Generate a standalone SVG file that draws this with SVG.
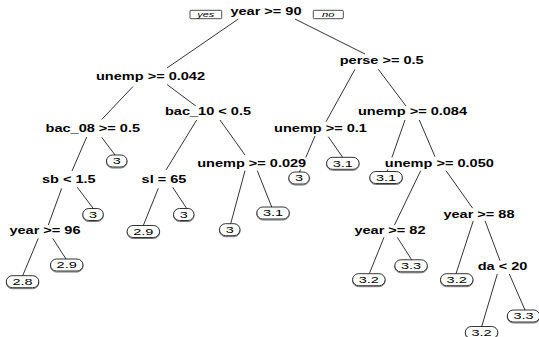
<svg xmlns="http://www.w3.org/2000/svg" width="539" height="337" viewBox="0 0 539 337">
  <style>
    .split { font-family: "Liberation Sans", Arial, sans-serif; font-weight: bold; font-size: 10px; text-anchor: middle; fill: #000; }
    .leaf text { font-family: "Liberation Sans", Arial, sans-serif; font-size: 9.5px; text-anchor: middle; fill: #000; }
    .bg { fill: #fff; stroke: none; }
    .box { fill: #fff; stroke: #000; stroke-width: 0.8; }
    .shadow { fill: none; stroke: #777; stroke-width: 1; }
    .yn { fill: #fff; stroke: #000; stroke-width: 0.7; }
    .yntext { font-family: "Liberation Sans", Arial, sans-serif; font-style: italic; font-size: 7.5px; text-anchor: middle; fill: #000; }
    #connectors line { stroke: #000; stroke-width: 0.8; }
  </style>

  <rect width="539" height="337" fill="#fff"/>

  <!-- branch lines (drawn first so split-label backgrounds cover them) -->
  <g id="connectors">
    <line x1="238.3" y1="19" x2="167" y2="68"/>
    <line x1="295" y1="19" x2="365" y2="54"/>
    <line x1="133" y1="86.5" x2="101.7" y2="119.5"/>
    <line x1="167" y1="84.5" x2="196.7" y2="106.7"/>
    <line x1="355" y1="69.3" x2="326" y2="121.7"/>
    <line x1="378.3" y1="69.3" x2="406" y2="106"/>
    <line x1="86.7" y1="137" x2="72" y2="171"/>
    <line x1="101.7" y1="137.3" x2="115" y2="155"/>
    <line x1="196.7" y1="120" x2="166" y2="170"/>
    <line x1="220" y1="120" x2="245" y2="155"/>
    <line x1="315" y1="136" x2="299.5" y2="172"/>
    <line x1="328.3" y1="136.7" x2="342.7" y2="157.3"/>
    <line x1="405" y1="120" x2="387" y2="171.5"/>
    <line x1="419.3" y1="120" x2="435" y2="156.7"/>
    <line x1="61.7" y1="188.3" x2="48.3" y2="225"/>
    <line x1="77.3" y1="187.3" x2="93.3" y2="208.5"/>
    <line x1="158.3" y1="188.3" x2="143.3" y2="225.5"/>
    <line x1="172.7" y1="187.3" x2="186.7" y2="208.5"/>
    <line x1="245" y1="170.7" x2="230.7" y2="223.7"/>
    <line x1="257.3" y1="170.7" x2="271.7" y2="207"/>
    <line x1="420.7" y1="170.7" x2="394" y2="226"/>
    <line x1="446" y1="170.7" x2="472.7" y2="208.3"/>
    <line x1="38.3" y1="238.3" x2="22.7" y2="275.7"/>
    <line x1="52.7" y1="238.3" x2="66" y2="259"/>
    <line x1="384" y1="237.3" x2="369.3" y2="273.7"/>
    <line x1="397.3" y1="237.3" x2="411.7" y2="259.8"/>
    <line x1="473.3" y1="220.7" x2="456" y2="273.7"/>
    <line x1="485" y1="220.7" x2="500" y2="260.7"/>
    <line x1="497.3" y1="274" x2="481.7" y2="326.5"/>
    <line x1="509.3" y1="274" x2="525" y2="310"/>
  </g>

  <!-- split nodes -->
  <g id="n1">
    <rect class="yn" x="190" y="10.3" width="31.7" height="8.4" rx="1"/>
    <text class="yntext" x="205.8" y="17" textLength="17" lengthAdjust="spacingAndGlyphs">yes</text>
    <rect class="yn" x="313.3" y="10.3" width="30" height="8.4" rx="1"/>
    <text class="yntext" x="328.3" y="17" textLength="12.5" lengthAdjust="spacingAndGlyphs">no</text>
    <rect class="bg" x="228" y="5" width="75" height="12"/>
    <text class="split" x="266" y="14.5" textLength="71.1" lengthAdjust="spacingAndGlyphs">year &gt;= 90</text>
  </g>
  <g id="n2">
    <rect class="bg" x="94" y="71" width="113" height="12"/>
    <text class="split" x="150.5" y="80" textLength="109" lengthAdjust="spacingAndGlyphs">unemp &gt;= 0.042</text>
  </g>
  <g id="n3">
    <rect class="bg" x="337.7" y="55" width="88" height="12"/>
    <text class="split" x="381.7" y="64" textLength="84" lengthAdjust="spacingAndGlyphs">perse &gt;= 0.5</text>
  </g>
  <g id="n4">
    <rect class="bg" x="43.5" y="122.5" width="98.5" height="12"/>
    <text class="split" x="92.8" y="131.5" textLength="94.5" lengthAdjust="spacingAndGlyphs">bac_08 &gt;= 0.5</text>
  </g>
  <g id="n5">
    <rect class="bg" x="163" y="106" width="90" height="12"/>
    <text class="split" x="208" y="115" textLength="86" lengthAdjust="spacingAndGlyphs">bac_10 &lt; 0.5</text>
  </g>
  <g id="n6">
    <rect class="bg" x="272" y="122.5" width="97" height="12"/>
    <text class="split" x="320.5" y="131.5" textLength="92.9" lengthAdjust="spacingAndGlyphs">unemp &gt;= 0.1</text>
  </g>
  <g id="n7">
    <rect class="bg" x="356" y="106" width="113" height="12"/>
    <text class="split" x="412.5" y="115" textLength="109" lengthAdjust="spacingAndGlyphs">unemp &gt;= 0.084</text>
  </g>
  <g id="n8">
    <rect class="bg" x="40" y="174" width="57.7" height="12"/>
    <text class="split" x="68.8" y="183" textLength="53.7" lengthAdjust="spacingAndGlyphs">sb &lt; 1.5</text>
  </g>
  <g id="n9">
    <rect class="bg" x="139.6" y="174" width="48.8" height="12"/>
    <text class="split" x="164" y="183" textLength="44.8" lengthAdjust="spacingAndGlyphs">sl = 65</text>
  </g>
  <g id="n10">
    <rect class="bg" x="195.2" y="157.5" width="113" height="12"/>
    <text class="split" x="251.7" y="166.5" textLength="109" lengthAdjust="spacingAndGlyphs">unemp &gt;= 0.029</text>
  </g>
  <g id="n11">
    <rect class="bg" x="382.8" y="157.5" width="113" height="12"/>
    <text class="split" x="439.3" y="166.5" textLength="109" lengthAdjust="spacingAndGlyphs">unemp &gt;= 0.050</text>
  </g>
  <g id="n12">
    <rect class="bg" x="7.5" y="225" width="75" height="12"/>
    <text class="split" x="45" y="234" textLength="71.1" lengthAdjust="spacingAndGlyphs">year &gt;= 96</text>
  </g>
  <g id="n13">
    <rect class="bg" x="441.5" y="208.5" width="75" height="12"/>
    <text class="split" x="479" y="217.5" textLength="71.1" lengthAdjust="spacingAndGlyphs">year &gt;= 88</text>
  </g>
  <g id="n14">
    <rect class="bg" x="352.5" y="225" width="75" height="12"/>
    <text class="split" x="390" y="234" textLength="71.1" lengthAdjust="spacingAndGlyphs">year &gt;= 82</text>
  </g>
  <g id="n15">
    <rect class="bg" x="475.6" y="261" width="53.7" height="12"/>
    <text class="split" x="502.5" y="270" textLength="49.7" lengthAdjust="spacingAndGlyphs">da &lt; 20</text>
  </g>

  <!-- leaves: rounded boxes with a light drop shadow -->
  <g id="l1" class="leaf">
    <rect class="shadow" x="106.5" y="156" width="20.5" height="12" rx="6"/>
    <rect class="box" x="106.5" y="155" width="20.5" height="12" rx="6"/>
    <text x="116.7" y="164.4" textLength="8.1" lengthAdjust="spacingAndGlyphs">3</text>
  </g>
  <g id="l2" class="leaf">
    <rect class="shadow" x="82.8" y="209.5" width="20.5" height="12" rx="6"/>
    <rect class="box" x="82.8" y="208.5" width="20.5" height="12" rx="6"/>
    <text x="93" y="217.9" textLength="8.1" lengthAdjust="spacingAndGlyphs">3</text>
  </g>
  <g id="l3" class="leaf">
    <rect class="shadow" x="127.1" y="226.5" width="32.5" height="12" rx="6"/>
    <rect class="box" x="127.1" y="225.5" width="32.5" height="12" rx="6"/>
    <text x="143.3" y="234.9" textLength="20.2" lengthAdjust="spacingAndGlyphs">2.9</text>
  </g>
  <g id="l4" class="leaf">
    <rect class="shadow" x="173.5" y="209.5" width="20.5" height="12" rx="6"/>
    <rect class="box" x="173.5" y="208.5" width="20.5" height="12" rx="6"/>
    <text x="183.7" y="217.9" textLength="8.1" lengthAdjust="spacingAndGlyphs">3</text>
  </g>
  <g id="l5" class="leaf">
    <rect class="shadow" x="50.5" y="260" width="32.5" height="12" rx="6"/>
    <rect class="box" x="50.5" y="259" width="32.5" height="12" rx="6"/>
    <text x="66.7" y="268.4" textLength="20.2" lengthAdjust="spacingAndGlyphs">2.9</text>
  </g>
  <g id="l6" class="leaf">
    <rect class="shadow" x="6.3" y="276.7" width="32.5" height="12" rx="6"/>
    <rect class="box" x="6.3" y="275.7" width="32.5" height="12" rx="6"/>
    <text x="22.5" y="285.1" textLength="20.2" lengthAdjust="spacingAndGlyphs">2.8</text>
  </g>
  <g id="l7" class="leaf">
    <rect class="shadow" x="219.5" y="224.7" width="20.5" height="12" rx="6"/>
    <rect class="box" x="219.5" y="223.7" width="20.5" height="12" rx="6"/>
    <text x="229.7" y="233.1" textLength="8.1" lengthAdjust="spacingAndGlyphs">3</text>
  </g>
  <g id="l8" class="leaf">
    <rect class="shadow" x="256.8" y="208" width="32.5" height="12" rx="6"/>
    <rect class="box" x="256.8" y="207" width="32.5" height="12" rx="6"/>
    <text x="273" y="216.4" textLength="20.2" lengthAdjust="spacingAndGlyphs">3.1</text>
  </g>
  <g id="l9" class="leaf">
    <rect class="shadow" x="288.8" y="173" width="20.5" height="12" rx="6"/>
    <rect class="box" x="288.8" y="172" width="20.5" height="12" rx="6"/>
    <text x="299" y="181.4" textLength="8.1" lengthAdjust="spacingAndGlyphs">3</text>
  </g>
  <g id="l10" class="leaf">
    <rect class="shadow" x="326.6" y="158.3" width="32.5" height="12" rx="6"/>
    <rect class="box" x="326.6" y="157.3" width="32.5" height="12" rx="6"/>
    <text x="342.8" y="166.7" textLength="20.2" lengthAdjust="spacingAndGlyphs">3.1</text>
  </g>
  <g id="l11" class="leaf">
    <rect class="shadow" x="369.8" y="172.5" width="32.5" height="12" rx="6"/>
    <rect class="box" x="369.8" y="171.5" width="32.5" height="12" rx="6"/>
    <text x="386" y="180.9" textLength="20.2" lengthAdjust="spacingAndGlyphs">3.1</text>
  </g>
  <g id="l12" class="leaf">
    <rect class="shadow" x="352.6" y="274.7" width="32.5" height="12" rx="6"/>
    <rect class="box" x="352.6" y="273.7" width="32.5" height="12" rx="6"/>
    <text x="368.8" y="283.1" textLength="20.2" lengthAdjust="spacingAndGlyphs">3.2</text>
  </g>
  <g id="l13" class="leaf">
    <rect class="shadow" x="394.8" y="260.8" width="32.5" height="12" rx="6"/>
    <rect class="box" x="394.8" y="259.8" width="32.5" height="12" rx="6"/>
    <text x="411" y="269.2" textLength="20.2" lengthAdjust="spacingAndGlyphs">3.3</text>
  </g>
  <g id="l14" class="leaf">
    <rect class="shadow" x="440.5" y="274.7" width="32.5" height="12" rx="6"/>
    <rect class="box" x="440.5" y="273.7" width="32.5" height="12" rx="6"/>
    <text x="456.7" y="283.1" textLength="20.2" lengthAdjust="spacingAndGlyphs">3.2</text>
  </g>
  <g id="l15" class="leaf">
    <rect class="shadow" x="507.3" y="311" width="32.5" height="12" rx="6"/>
    <rect class="box" x="507.3" y="310" width="32.5" height="12" rx="6"/>
    <text x="523.5" y="319.4" textLength="20.2" lengthAdjust="spacingAndGlyphs">3.3</text>
  </g>
  <g id="l16" class="leaf">
    <rect class="shadow" x="465.3" y="327.5" width="32.5" height="12" rx="6"/>
    <rect class="box" x="465.3" y="326.5" width="32.5" height="12" rx="6"/>
    <text x="481.5" y="335.9" textLength="20.2" lengthAdjust="spacingAndGlyphs">3.2</text>
  </g>
</svg>
